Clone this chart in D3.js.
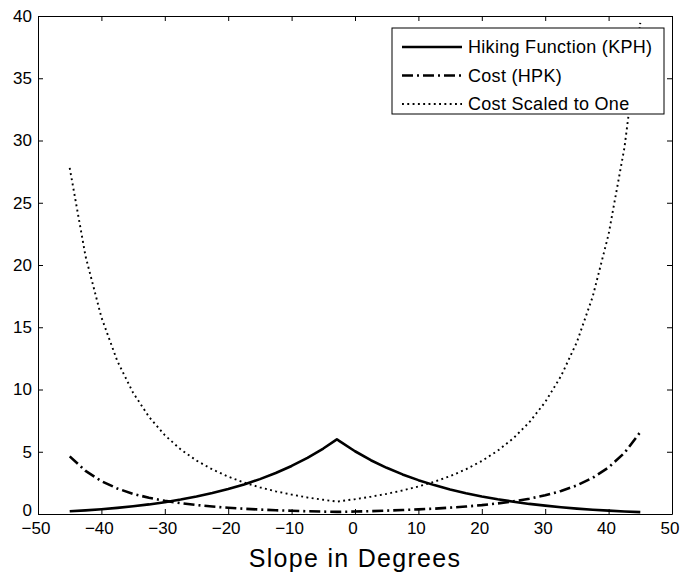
<!DOCTYPE html>
<html>
<head>
<meta charset="utf-8">
<script src="https://cdn.jsdelivr.net/npm/d3@7"></script>
<style>
  body { margin: 0; background: #fff; }
  svg { display: block; }
</style>
</head>
<body>
<div id="chart"></div>
<script>
// Slope (degrees) sample points
const slopes = [-45, -42.5, -40, -37.5, -35, -32.5, -30, -27.5, -25, -22.5, -20, -17.5, -15, -12.5,
  -10, -7.5, -5, -2.86, -2.5, 0, 2.5, 5, 7.5, 10, 12.5, 15, 17.5, 20, 22.5, 25, 27.5, 30,
  32.5, 35, 37.5, 40, 42.5, 45];

const hikingKph = [0.22, 0.29, 0.38, 0.49, 0.62, 0.77, 0.95, 1.16, 1.40, 1.68, 2.00, 2.37, 2.80, 3.29,
  3.86, 4.51, 5.26, 6.00, 5.87, 5.04, 4.32, 3.71, 3.18, 2.72, 2.32, 1.97, 1.67, 1.41, 1.18, 0.99,
  0.81, 0.67, 0.54, 0.43, 0.34, 0.27, 0.20, 0.15];

const costHpk = [4.63, 3.46, 2.64, 2.05, 1.62, 1.30, 1.06, 0.87, 0.72, 0.60, 0.50, 0.42, 0.36, 0.30,
  0.26, 0.22, 0.19, 0.17, 0.17, 0.20, 0.23, 0.27, 0.32, 0.37, 0.43, 0.51, 0.60, 0.71, 0.85, 1.02,
  1.23, 1.50, 1.85, 2.30, 2.91, 3.74, 4.91, 6.58];

const costScaled = [27.8, 20.7, 15.8, 12.3, 9.74, 7.81, 6.33, 5.19, 4.29, 3.58, 3.00, 2.53, 2.14, 1.82,
  1.56, 1.33, 1.14, 1.00, 1.02, 1.19, 1.39, 1.62, 1.89, 2.21, 2.59, 3.04, 3.59, 4.26, 5.08, 6.09,
  7.37, 8.99, 11.08, 13.81, 17.47, 22.47, 29.43, 39.45];

const xTicks = [-50, -40, -30, -20, -10, 0, 10, 20, 30, 40, 50];
const yTicks = [0, 5, 10, 15, 20, 25, 30, 35, 40];

const seriesNames = ['Hiking Function (KPH)', 'Cost (HPK)', 'Cost Scaled to One'];
const seriesValues = [hikingKph, costHpk, costScaled];

const W = 680, H = 576;
const M = { top: 16, right: 8, bottom: 62, left: 38 };
const innerW = W - M.left - M.right;
const innerH = H - M.top - M.bottom;

const styles = [
  { width: 2.6, dash: null },
  { width: 2.6, dash: '11,4,2,4' },
  { width: 1.9, dash: '1.9,3.4' },
];

const svg = d3.select('#chart').append('svg')
  .attr('width', W)
  .attr('height', H);

const x = d3.scaleLinear().domain([-50, 50]).range([0, innerW]);
const y = d3.scaleLinear().domain([0, 40]).range([innerH, 0]);

const g = svg.append('g').attr('transform', `translate(${M.left},${M.top})`);

const font = '"Liberation Sans", Arial, sans-serif';

// Axes: ticks point inward, mirrored on top and right
const axisBottom = g.append('g').attr('transform', `translate(0,${innerH})`)
  .call(d3.axisBottom(x).tickValues(xTicks).tickSizeInner(-5).tickSizeOuter(0).tickPadding(8));
const axisTop = g.append('g')
  .call(d3.axisTop(x).tickValues(xTicks).tickSizeInner(-5).tickSizeOuter(0).tickFormat(''));
const axisLeft = g.append('g')
  .call(d3.axisLeft(y).tickValues(yTicks).tickSizeInner(-5).tickSizeOuter(0).tickPadding(6));
const axisRight = g.append('g').attr('transform', `translate(${innerW},0)`)
  .call(d3.axisRight(y).tickValues(yTicks).tickSizeInner(-5).tickSizeOuter(0).tickFormat(''));

[axisBottom, axisTop, axisLeft, axisRight].forEach(a => {
  a.select('.domain').attr('stroke', '#000');
  a.selectAll('.tick line').attr('stroke', '#000');
  a.selectAll('.tick text')
    .attr('fill', '#000')
    .attr('font-family', font)
    .attr('font-size', 17);
});
// lift the bottom-left "0" so it clears the "-50" below it
axisLeft.selectAll('.tick').filter(d => d === 0).select('text').attr('y', -4);
axisBottom.selectAll('.tick text').attr('dx', '-0.15em');

// Lines
const line = d3.line()
  .x((d, i) => x(slopes[i]))
  .y(d => y(d));

seriesValues.forEach((vals, i) => {
  g.append('path')
    .datum(vals)
    .attr('fill', 'none')
    .attr('stroke', '#000')
    .attr('stroke-width', styles[i].width)
    .attr('stroke-dasharray', styles[i].dash)
    .attr('stroke-linejoin', 'round')
    .attr('d', line);
});

// Legend
const lx = 392 - M.left, ly = 28 - M.top, lw = 272, lh = 86;
const legend = g.append('g').attr('transform', `translate(${lx},${ly})`);
legend.append('rect')
  .attr('width', lw).attr('height', lh)
  .attr('fill', '#fff').attr('stroke', '#000').attr('stroke-width', 1);

seriesNames.forEach((name, i) => {
  const rowY = 19 + i * 28.5;
  legend.append('line')
    .attr('x1', 10).attr('x2', 70)
    .attr('y1', rowY).attr('y2', rowY)
    .attr('stroke', '#000')
    .attr('stroke-width', styles[i].width)
    .attr('stroke-dasharray', styles[i].dash);
  legend.append('text')
    .attr('x', 76).attr('y', rowY)
    .attr('dy', '0.35em')
    .attr('font-family', font)
    .attr('font-size', 18)
    .attr('letter-spacing', 0.3)
    .text(name);
});

// X axis title
svg.append('text')
  .attr('x', M.left + innerW / 2)
  .attr('y', 567)
  .attr('text-anchor', 'middle')
  .attr('font-family', font)
  .attr('font-size', 25)
  .attr('letter-spacing', 1.3)
  .attr('fill', '#000')
  .text('Slope in Degrees');
</script>
</body>
</html>
